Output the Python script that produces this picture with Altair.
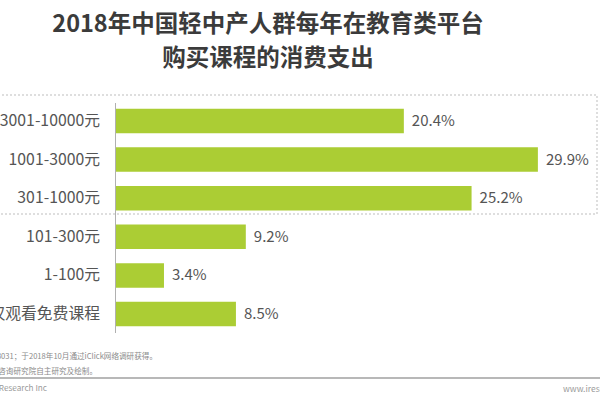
import altair as alt
import pandas as pd

# ---- data ----
categories = ["3001-10000元", "1001-3000元", "301-1000元", "101-300元", "1-100元", "仅观看免费课程"]
values = [20.4, 29.9, 25.2, 9.2, 3.4, 8.5]
title_lines = ["2018年中国轻中产人群每年在教育类平台", "购买课程的消费支出"]
note_lines = ["样本：N=3031；于2018年10月通过iClick网络调研获得。", "来源：艾瑞咨询研究院自主研究及绘制。"]
copyright_text = "© 2018.12 iResearch Inc"
site_text = "www.iresearch.com.cn"

df = pd.DataFrame({"category": categories, "value": values})

FONT = "Noto Sans CJK SC"
BAR = "#abcd34"
LABEL = "#555555"

x_scale = alt.Scale(domain=[0, 30], range=[116, 539.3], nice=False, zero=True)
y_scale = alt.Scale(domain=categories, range=[101.7, 333.3], paddingInner=0.365, paddingOuter=0.18)

base = alt.Chart(df)
y_enc = alt.Y("category:N", sort=categories, scale=y_scale, axis=None)

bars = base.mark_bar(color=BAR).encode(
    x=alt.X("value:Q", scale=x_scale, axis=None),
    y=y_enc,
)

cat_labels = base.mark_text(align="right", baseline="middle", font=FONT, fontSize=15.8, color=LABEL).encode(
    x=alt.value(100),
    y=y_enc,
    text="category:N",
)

val_labels = base.transform_calculate(
    label="format(datum.value, '.1f') + '%'"
).mark_text(align="left", baseline="middle", dx=8, font=FONT, fontSize=15, color=LABEL).encode(
    x=alt.X("value:Q", scale=x_scale, axis=None),
    y=y_enc,
    text="label:N",
)

one = alt.Data(values=[{}])

axis_line = alt.Chart(one).mark_rule(color="#b0b0b0", strokeWidth=1).encode(
    x=alt.value(115.5), y=alt.value(103), y2=alt.value(333)
)

dotted_box = alt.Chart(one).mark_rect(
    fill=None, stroke="#bdbdbd", strokeWidth=1, strokeDash=[2, 2]
).encode(x=alt.value(-10), x2=alt.value(597), y=alt.value(95), y2=alt.value(214))

title1 = alt.Chart(one).mark_text(
    align="center", baseline="middle", font=FONT, fontSize=23.5, fontWeight="bold", color="#3b3b3b"
).encode(x=alt.value(268), y=alt.value(25), text=alt.value(title_lines[0]))

title2 = alt.Chart(one).mark_text(
    align="center", baseline="middle", font=FONT, fontSize=23.5, fontWeight="bold", color="#3b3b3b"
).encode(x=alt.value(268), y=alt.value(59), text=alt.value(title_lines[1]))

note1 = alt.Chart(one).mark_text(
    align="right", baseline="middle", font=FONT, fontSize=7.6, color="#8a8a8a"
).encode(x=alt.value(157), y=alt.value(357), text=alt.value(note_lines[0]))

note2 = alt.Chart(one).mark_text(
    align="right", baseline="middle", font=FONT, fontSize=7.6, color="#8a8a8a"
).encode(x=alt.value(97), y=alt.value(372), text=alt.value(note_lines[1]))

footer_rule = alt.Chart(one).mark_rule(color="#a0a0a0", strokeWidth=1.5).encode(
    x=alt.value(0), x2=alt.value(600), y=alt.value(378)
)

copy_t = alt.Chart(one).mark_text(
    align="right", baseline="middle", font=FONT, fontSize=8.2, color="#9a9a9a"
).encode(x=alt.value(47), y=alt.value(389), text=alt.value(copyright_text))

site_t = alt.Chart(one).mark_text(
    align="left", baseline="middle", font=FONT, fontSize=8.5, color="#9a9a9a"
).encode(x=alt.value(563), y=alt.value(389), text=alt.value(site_text))

chart = alt.layer(
    dotted_box, bars, axis_line, cat_labels, val_labels,
    title1, title2, note1, note2, footer_rule, copy_t, site_t
).properties(
    width=600, height=400, padding=0,
    autosize=alt.AutoSizeParams(type="none"),
    background="#ffffff",
).configure_view(stroke=None)

chart.save("out.html", embed_options={"renderer": "svg", "actions": False})
